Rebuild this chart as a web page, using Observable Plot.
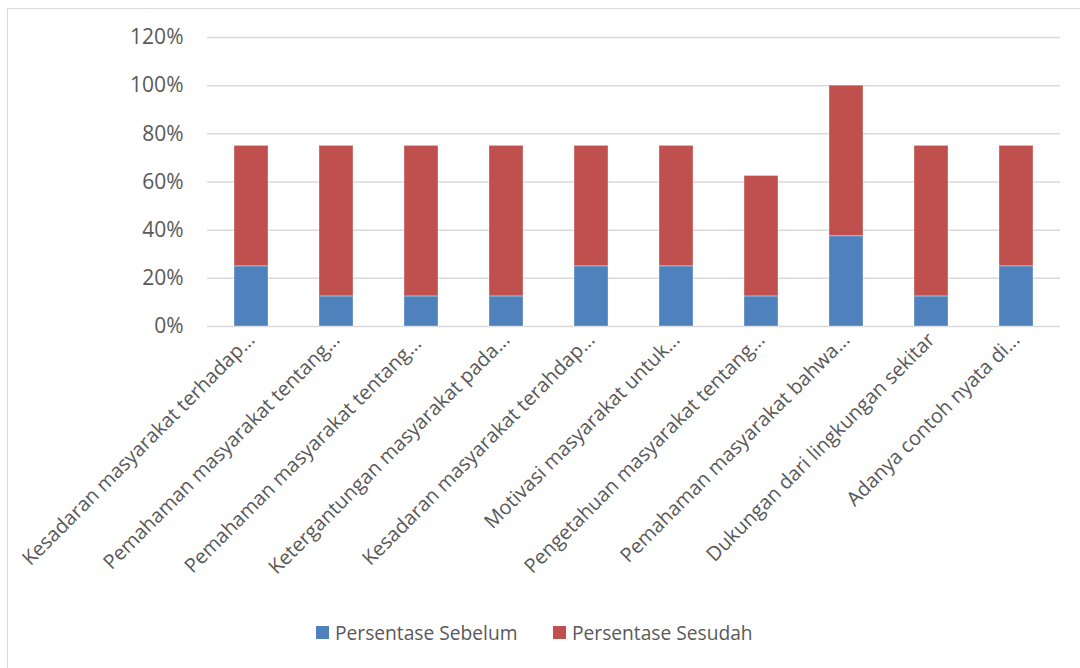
<!DOCTYPE html>
<html>
<head>
<meta charset="utf-8">
<script src="https://cdn.jsdelivr.net/npm/d3@7"></script>
<script src="https://cdn.jsdelivr.net/npm/@observablehq/plot@0.6"></script>
<style>
  html, body { margin: 0; padding: 0; background: #fff; overflow: hidden; width: 1080px; height: 668px; }
  #frame { position: absolute; left: 7px; top: 8px; width: 1100px; height: 700px; border: 1.5px solid #d9d9d9; box-sizing: border-box; }
  #chart { position: absolute; left: 0; top: 0; }
  #legend { position: absolute; left: 0; top: 617px; width: 1080px; height: 30px; font-family: "Open Sans", sans-serif; font-size: 19.2px; color: #595959; }
  .item { position: absolute; top: 0; display: flex; align-items: center; height: 30px; }
  .sw { width: 13px; height: 13px; margin-right: 6px; }
</style>
</head>
<body>
<div id="frame"></div>
<div id="chart"></div>
<div id="legend"></div>
<script>
const categories = [
  "Kesadaran masyarakat terhadap...",
  "Pemahaman masyarakat tentang...",
  "Pemahaman masyarakat tentang... ",
  "Ketergantungan masyarakat pada...",
  "Kesadaran masyarakat terahdap...",
  "Motivasi masyarakat untuk...",
  "Pengetahuan masyarakat tentang...",
  "Pemahaman masyarakat bahwa...",
  "Dukungan dari lingkungan sekitar",
  "Adanya contoh nyata di..."
];
const seriesNames = ["Persentase Sebelum", "Persentase Sesudah"];
const sebelum = [25, 12.5, 12.5, 12.5, 25, 25, 12.5, 37.5, 12.5, 25];
const sesudah = [50, 62.5, 62.5, 62.5, 50, 50, 50, 62.5, 62.5, 50];
const colors = ["#4f81bd", "#c0504d"];
const yTicks = [0, 20, 40, 60, 80, 100, 120];

const data = [];
categories.forEach((c, i) => data.push({cat: c, series: seriesNames[0], value: sebelum[i]}));
categories.forEach((c, i) => data.push({cat: c, series: seriesNames[1], value: sesudah[i]}));

const font = "'Open Sans', sans-serif";
const chart = Plot.plot({
  width: 1080,
  height: 610,
  marginLeft: 207,
  marginRight: 20,
  marginTop: 37,
  marginBottom: 284,
  style: {fontFamily: font, fontSize: "20px", color: "#595959", background: "transparent"},
  x: {domain: categories, paddingInner: 0.6, paddingOuter: 0.3, label: null},
  y: {domain: [0, 120], label: null},
  color: {domain: seriesNames, range: colors},
  marks: [
    Plot.ruleY(yTicks, {stroke: "#d9d9d9", strokeWidth: 1.5}),
    Plot.barY(data, {x: "cat", y: "value", fill: "series", stroke: "#ffffff", strokeOpacity: 0.35, strokeWidth: 1}),
    Plot.axisY({ticks: yTicks, tickFormat: d => d + "%", tickSize: 0, tickPadding: 24, fontSize: 21, fill: "#595959"}),
    Plot.axisX({tickSize: 0, tickPadding: 10, tickRotate: -45, fontSize: 20, fill: "#595959"})
  ]
});
document.getElementById("chart").appendChild(chart);

const legend = document.getElementById("legend");
const lefts = [316, 553];
seriesNames.forEach((s, i) => {
  const it = document.createElement("div");
  it.className = "item";
  it.style.left = lefts[i] + "px";
  const sw = document.createElement("div");
  sw.className = "sw";
  sw.style.background = colors[i];
  const t = document.createElement("span");
  t.textContent = s;
  it.appendChild(sw); it.appendChild(t);
  legend.appendChild(it);
});
</script>
</body>
</html>
